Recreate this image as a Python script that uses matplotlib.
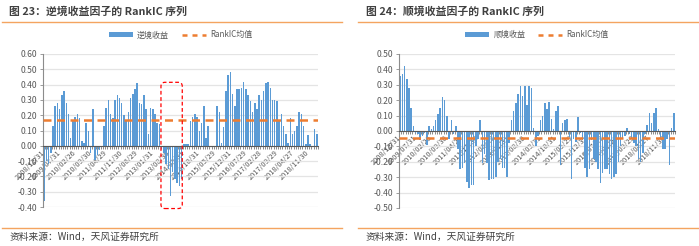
import numpy as np
import matplotlib
matplotlib.use('Agg')
import matplotlib.pyplot as plt
from matplotlib.patches import FancyBboxPatch, Patch
from matplotlib.lines import Line2D
from matplotlib.ticker import FixedLocator, MultipleLocator, FormatStrFormatter

plt.rcParams['font.family'] = ['Noto Sans CJK SC', 'DejaVu Sans']

# x tick labels (every 7th month, 2008/12 .. 2019/03)
tick_labels = ['2008/12/31', '2009/07/31', '2010/02/26', '2010/09/30', '2011/04/29',
               '2011/11/30', '2012/06/29', '2013/01/31', '2013/08/30', '2014/03/31',
               '2014/10/31', '2015/05/29', '2015/12/31', '2016/07/29', '2017/02/28',
               '2017/09/29', '2018/04/27', '2018/11/30']

# monthly RankIC, adverse-return factor (fig 23)
adverse_ic = [-0.36, -0.10, -0.12, -0.05, 0.13, 0.26, 0.28, 0.24, 0.33, 0.36,
              0.28, 0.21, 0.05, 0.17, 0.19, 0.21, 0.18, 0.03, 0.02, 0.15,
              0.10, -0.05, 0.24, -0.09, -0.06, -0.03, -0.01, 0.13, 0.25, 0.30,
              0.21, 0.18, 0.30, 0.33, 0.31, 0.28, 0.20, 0.17, 0.22, 0.31,
              0.34, 0.37, 0.41, 0.28, 0.27, 0.33, 0.24, 0.08, 0.25, 0.24,
              0.21, 0.15, 0.14, -0.02, -0.05, -0.12, -0.15, -0.33, -0.17, -0.22,
              -0.24, -0.26, -0.22, 0.01, 0.01, 0.01, 0.16, 0.19, 0.21, 0.19,
              0.10, 0.15, 0.26, 0.05, 0.13, 0.00, 0.00, 0.00, 0.26, 0.22,
              0.02, 0.12, 0.36, 0.46, 0.48, 0.34, 0.26, 0.37, 0.37, 0.38,
              0.42, 0.37, 0.33, 0.29, 0.22, 0.28, 0.24, 0.33, 0.30, 0.36,
              0.41, 0.42, 0.38, 0.30, 0.30, 0.29, 0.16, 0.21, 0.13, 0.08,
              0.02, 0.18, 0.08, 0.10, 0.13, 0.22, 0.21, 0.13, 0.01, 0.07,
              0.01, 0.00, 0.11, 0.08]

# monthly RankIC, favorable-return factor (fig 24)
favor_ic = [0.36, 0.37, 0.42, 0.34, 0.28, 0.15, 0.03, -0.01, -0.02, -0.06,
            -0.03, -0.01, -0.09, 0.03, 0.01, 0.03, 0.07, 0.11, 0.15, 0.22,
            0.20, 0.10, -0.05, 0.07, -0.02, 0.03, -0.12, -0.25, -0.24, -0.21,
            -0.33, -0.37, -0.35, -0.35, -0.10, -0.05, 0.07, -0.21, -0.15, -0.21,
            -0.32, -0.31, -0.31, -0.30, -0.20, -0.18, -0.24, -0.24, -0.30, -0.08,
            0.07, 0.13, 0.18, 0.24, 0.29, 0.23, 0.29, 0.17, 0.29, 0.28,
            0.02, -0.10, -0.03, 0.07, 0.10, 0.18, 0.14, 0.19, 0.08, 0.01,
            0.13, 0.16, -0.22, 0.05, 0.07, 0.08, -0.04, -0.31, -0.05, -0.07,
            0.09, -0.01, -0.06, -0.24, -0.30, -0.25, -0.06, -0.18, -0.20, -0.25,
            -0.34, -0.27, -0.25, -0.25, -0.28, -0.31, -0.30, -0.28, -0.20, -0.10,
            -0.05, -0.03, 0.02, -0.02, -0.05, -0.08, -0.10, -0.18, -0.20, -0.14,
            -0.02, 0.04, 0.12, 0.05, 0.12, 0.15, 0.01, -0.05, -0.12, -0.12,
            -0.05, -0.22, 0.02, 0.12]

adverse_mean = 0.166
favor_mean = -0.047
highlight = (53, 62)   # months boxed in red on fig 23

bar_color = '#5B9BD5'
mean_color = '#ED7D31'
rule_color = '#F4A460'
text_color = '#595959'

fig = plt.figure(figsize=(6.99, 2.46), dpi=100)


def draw_panel(ax, values, mean, name, ylo, yhi):
    n = len(values)
    x = np.arange(n)
    ax.bar(x, values, width=0.68, color=bar_color, linewidth=0, zorder=2)
    ax.axhline(mean, color=mean_color, lw=1.8, dashes=(3.2, 2.2), zorder=3)
    ax.set_xlim(-0.5, n - 0.5)
    ax.set_ylim(ylo, yhi)
    ax.yaxis.set_major_locator(MultipleLocator(0.1))
    ax.yaxis.set_major_formatter(FormatStrFormatter('%.2f'))
    ax.yaxis.grid(True, color='#E4E4E4', lw=0.9)
    ax.set_axisbelow(True)
    for s in ['top', 'right']:
        ax.spines[s].set_visible(False)
    ax.spines['bottom'].set_position(('data', 0))
    ax.spines['bottom'].set_color('#595959')
    ax.spines['bottom'].set_linewidth(0.8)
    ax.spines['left'].set_color('#8C8C8C')
    ax.spines['left'].set_linewidth(0.8)
    ax.set_xticks(x[::7][:len(tick_labels)])
    ax.set_xticklabels(tick_labels, rotation=45, ha='right', va='center',
                       rotation_mode='anchor', fontsize=5.3, color=text_color)
    ax.xaxis.set_minor_locator(FixedLocator(np.arange(-0.5, n, 1)))
    ax.tick_params(axis='x', which='major', length=0, pad=4)
    ax.tick_params(axis='x', which='minor', length=2, width=0.5, color='#595959')
    ax.tick_params(axis='y', length=2, width=0.6, color='#8C8C8C',
                   labelsize=6.2, labelcolor=text_color, pad=2)
    handles = [Patch(facecolor=bar_color, edgecolor='none'),
               Line2D([], [], color=mean_color, lw=1.8, dashes=(2.0, 2.0))]
    ax.legend(handles, [name, 'RankIC均值'], loc='center', bbox_to_anchor=(0.5, 1.125),
              ncol=2, frameon=False, fontsize=5.8, labelcolor=text_color,
              handlelength=3.0, handleheight=0.5, columnspacing=1.6, handletextpad=0.5)


ax1 = fig.add_axes([0.0615, 0.1585, 0.3934, 0.622])
draw_panel(ax1, adverse_ic, adverse_mean, '逆境收益', -0.4, 0.6)

# red dashed rounded box around the 2013-2014 drawdown
n1 = len(adverse_ic)
ux = n1 / 275.0
uy = 1.0 / 153.0
box = FancyBboxPatch((highlight[0] - 0.3, -0.41), highlight[1] - highlight[0] + 0.6, 0.825,
                     boxstyle='round,pad=0,rounding_size=%.2f' % (4 * ux),
                     mutation_aspect=uy / ux, fill=False, edgecolor='#FF0000',
                     lw=0.9, linestyle=(0, (3, 2)), clip_on=False, zorder=4)
ax1.add_patch(box)

ax2 = fig.add_axes([0.5708, 0.1545, 0.3949, 0.626])
draw_panel(ax2, favor_ic, favor_mean, '顺境收益', -0.5, 0.5)

# titles, rules and source
fig.text(0.013, 0.952, '图 23：逆境收益因子的 RankIC 序列', fontsize=7.8, fontweight='bold',
         color='#404040', va='center')
fig.text(0.523, 0.952, '图 24：顺境收益因子的 RankIC 序列', fontsize=7.8, fontweight='bold',
         color='#404040', va='center')
for x0, x1 in [(0.003, 0.489), (0.512, 0.999)]:
    fig.add_artist(Line2D([x0, x1], [0.911, 0.911], color=rule_color, lw=1.0))
    fig.add_artist(Line2D([x0, x1], [0.072, 0.072], color=rule_color, lw=1.0))
fig.text(0.013, 0.037, '资料来源：Wind，天风证券研究所', fontsize=7, color='#404040', va='center')
fig.text(0.523, 0.037, '资料来源：Wind，天风证券研究所', fontsize=7, color='#404040', va='center')

fig.savefig('out.png', dpi=100)
